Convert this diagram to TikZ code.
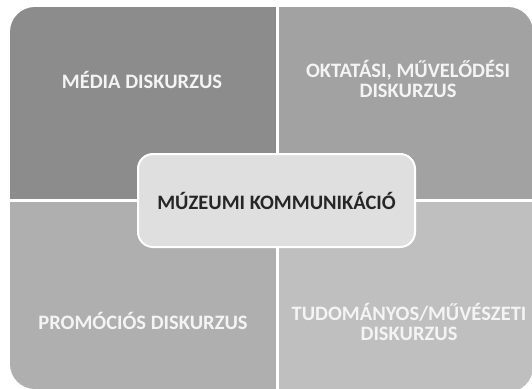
\documentclass[tikz,border=0pt]{standalone}
\usepackage{fontspec}
\setmainfont{Carlito}
\usepackage{tikz}
\usetikzlibrary{positioning}
\definecolor{mediagray}{HTML}{8C8C8C}
\definecolor{oktgray}{HTML}{A2A2A2}
\definecolor{promgray}{HTML}{AFAFAF}
\definecolor{tudgray}{HTML}{BFBFBF}
\definecolor{coregray}{HTML}{DFDFDF}
\definecolor{coretext}{HTML}{262626}
\definecolor{quadtext}{HTML}{F4F4F4}

\begin{document}
\begin{tikzpicture}[x=1pt, y=-1pt,
	sep/.style={draw=white, line width=3pt},
	quadlabel/.style={text=quadtext, align=center, font=\fontsize{20.5}{20.5}\selectfont\bfseries},
	corebox/.style={draw=white, line width=2pt, fill=coregray, rounded corners=15pt, minimum width=277pt, minimum height=93pt, text=coretext, font=\fontsize{20.5}{20.5}\selectfont\bfseries}]
	\useasboundingbox (0,0) rectangle (532,388);
	% four quadrants
	\fill[mediagray] (277,200) -- (10,200) -- (10,32) arc[start angle=180, end angle=90, radius=25pt] -- (277,7) -- cycle;
	\fill[oktgray] (277,200) -- (277,7) -- (508,7) arc[start angle=90, end angle=0, radius=25pt] -- (533,200) -- cycle;
	\fill[promgray] (277,200) -- (10,200) -- (10,364) arc[start angle=180, end angle=270, radius=25pt] -- (277,389) -- cycle;
	\fill[tudgray] (277,200) -- (533,200) -- (533,367) arc[start angle=0, end angle=-90, radius=25pt] -- (277,392) -- cycle;
	\coordinate (top) at (277,7);
	\coordinate (bottom) at (277,392);
	\coordinate (left) at (10,200);
	\coordinate (right) at (533,200);
	\draw[sep] (top) -- (bottom);
	\draw[sep] (left) -- (right);
	% labels
	\node[quadlabel] (media) at (142,80) {MÉDIA DISKURZUS};
	\node[quadlabel] (oktatasi) at (408,79) {OKTATÁSI, MŰVELŐDÉSI\\DISKURZUS};
	\node[quadlabel] (promocios) at (143,321) {PROMÓCIÓS DISKURZUS};
	\node[quadlabel] (tudomanyos) at (409,322) {TUDOMÁNYOS/MŰVÉSZETI\\DISKURZUS};
	\node[corebox] (muzeumi) at (276.5,200.5) {MÚZEUMI KOMMUNIKÁCIÓ};
\end{tikzpicture}
\end{document}
